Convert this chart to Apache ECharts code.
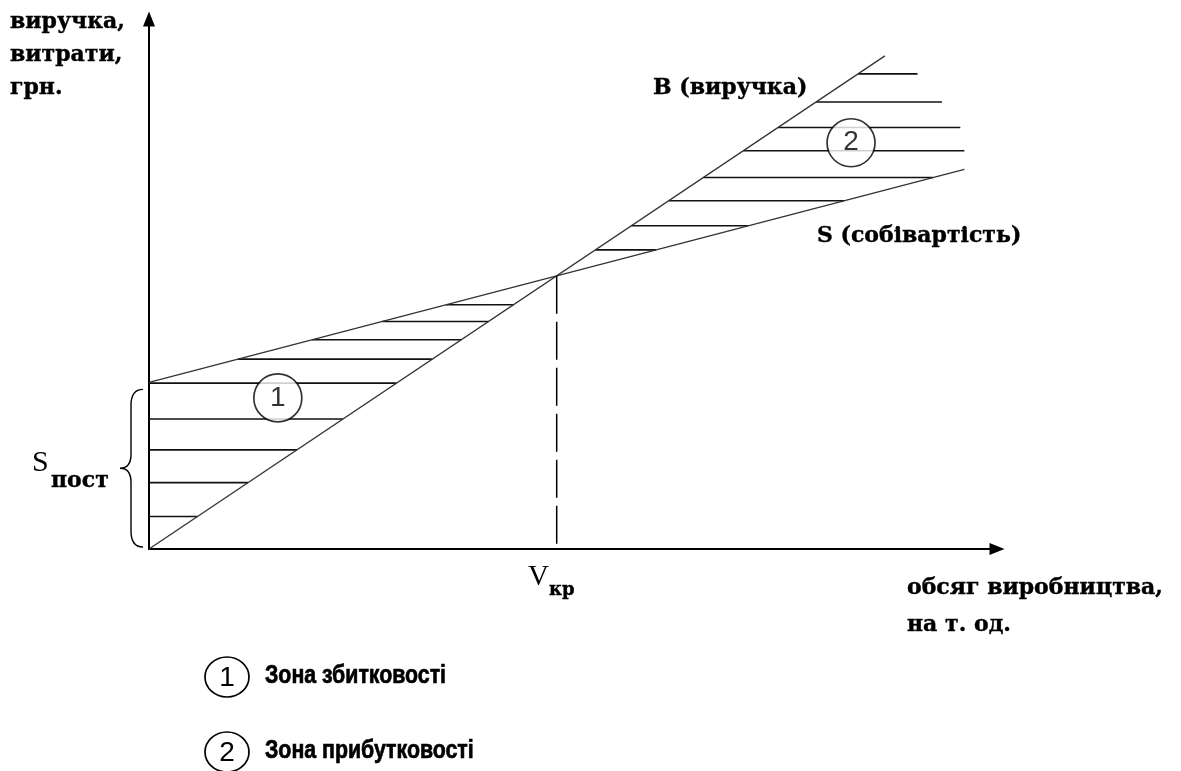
<!DOCTYPE html>
<html>
<head>
<meta charset="utf-8">
<script src="https://cdn.jsdelivr.net/npm/echarts@6/dist/echarts.min.js"></script>
<style>html,body{margin:0;background:#fff}#main{width:1181px;height:771px}</style>
</head>
<body>
<div id="main"></div>
<script>
var myChart = echarts.init(document.getElementById('main'));

// volume (x) vs money (y), arbitrary units, break-even at x = 10
var revenueLine = [[0, 0], [18.05, 18.05]];     // B (виручка)
var costLine = [[0, 6.1], [20, 13.9]];          // S (собівартість)
var breakEven = [10, 10];
var fixedCost = 6.1;

// hatch levels (y) of the two zones
var lossHatch = [8.94, 8.33, 7.66, 6.95, 6.07, 4.76, 3.63, 2.43, 1.19];
var profitHatch = [17.39, 16.36, 15.43, 14.58, 13.60, 12.75, 11.83, 10.95];
var profitHatchEnd = [18.85, 19.45, 19.9, 20.0];  // ragged right ends of the top lines

// circled zone numbers: x, y, label
var zoneMarks = [[3.16, 5.53, '1'], [17.22, 14.87, '2']];

var legendItems = ['Зона збитковості', 'Зона прибутковості'];

// x where a line reaches level y
function xAt(line, y) {
    var a = line[0], b = line[1];
    return a[0] + (y - a[1]) * (b[0] - a[0]) / (b[1] - a[1]);
}

var hatchData = [];
lossHatch.forEach(function (y) {
    hatchData.push([Math.max(0, xAt(costLine, y)), xAt(revenueLine, y), y]);
});
profitHatch.forEach(function (y, i) {
    var end = xAt(costLine, y);
    if (profitHatchEnd[i] != null) end = Math.min(end, profitHatchEnd[i]);
    hatchData.push([xAt(revenueLine, y), end, y]);
});

var serifB = 'bold 22px "DejaVu Serif"';
var legendFont = 'bold 26px "Liberation Sans"';
var axisStyle = {
    show: true,
    symbol: ['none', 'triangle'],
    symbolSize: [12, 15],
    lineStyle: {color: '#000', width: 2}
};

function serifText(txt, x, y, extra) {
    var st = {text: txt, font: serifB, fill: '#000', stroke: '#000', lineWidth: 0.4, verticalAlign: 'middle'};
    for (var k in extra) st[k] = extra[k];
    return {type: 'text', x: x, y: y, style: st};
}

option = {
    backgroundColor: '#fff',
    animation: false,
    grid: {left: 149, top: 19, right: 184, bottom: 222, outerBoundsMode: 'none'},
    xAxis: {
        type: 'value', min: 0, max: 20.8,
        axisLine: axisStyle,
        axisTick: {show: false}, axisLabel: {show: false}, splitLine: {show: false}
    },
    yAxis: {
        type: 'value', min: 0, max: 19.4,
        axisLine: axisStyle,
        axisTick: {show: false}, axisLabel: {show: false}, splitLine: {show: false}
    },
    series: [
        {
            // hatching
            type: 'custom',
            data: hatchData,
            encode: {x: [0, 1], y: 2},
            renderItem: function (params, api) {
                var p0 = api.coord([api.value(0), api.value(2)]);
                var p1 = api.coord([api.value(1), api.value(2)]);
                return {
                    type: 'line',
                    shape: {x1: p0[0], y1: p0[1], x2: p1[0], y2: p1[1]},
                    style: {stroke: '#111', lineWidth: 1.6}
                };
            },
            z: 1
        },
        {
            type: 'line', data: revenueLine, symbol: 'none',
            lineStyle: {color: '#333', width: 1.3}, z: 2
        },
        {
            type: 'line', data: costLine, symbol: 'none',
            lineStyle: {color: '#333', width: 1.3}, z: 2
        },
        {
            // Vкр drop line
            type: 'line', data: [breakEven, [breakEven[0], 0]], symbol: 'none',
            lineStyle: {color: '#000', width: 1.5, type: [38, 8]}, z: 2
        },
        {
            // brace for S пост
            type: 'custom',
            data: [[0, fixedCost]],
            clip: false,
            renderItem: function (params, api) {
                var top = api.coord([0, api.value(1)]);
                var bot = api.coord([0, 0]);
                var x0 = top[0] - 6, x1 = top[0] - 18, xt = top[0] - 29;
                var y0 = top[1] + 7, y1 = bot[1] - 2, ym = (y0 + y1) / 2;
                var d = 'M' + x0 + ' ' + y0 +
                    ' Q' + x1 + ' ' + y0 + ' ' + x1 + ' ' + (y0 + 16) +
                    ' L' + x1 + ' ' + (ym - 14) +
                    ' Q' + x1 + ' ' + ym + ' ' + xt + ' ' + ym +
                    ' Q' + x1 + ' ' + ym + ' ' + x1 + ' ' + (ym + 14) +
                    ' L' + x1 + ' ' + (y1 - 16) +
                    ' Q' + x1 + ' ' + y1 + ' ' + x0 + ' ' + y1;
                return {
                    type: 'path',
                    shape: {pathData: d},
                    style: {stroke: '#000', lineWidth: 1.4, fill: null}
                };
            }
        },
        {
            type: 'scatter',
            data: zoneMarks,
            symbol: 'circle',
            symbolSize: 48,
            itemStyle: {color: '#fff', borderColor: '#000', borderWidth: 1.7},
            label: {
                show: true, position: 'inside',
                formatter: function (p) { return p.value[2]; },
                color: '#000', fontSize: 28, fontFamily: 'Liberation Sans'
            },
            z: 5
        }
    ],
    graphic: [
        serifText('виручка,\nвитрати,\nгрн.', 10, 55, {lineHeight: 33}),
        serifText('В (виручка)', 653, 88),
        serifText('S (собівартість)', 817, 236),
        serifText('обсяг виробництва,\nна т. од.', 907, 607, {lineHeight: 37}),
        {type: 'text', x: 528, y: 577,
            style: {text: 'V', font: '29px "Liberation Serif"', verticalAlign: 'middle', fill: '#000'}},
        serifText('кр', 549, 590, {font: 'bold 18px "DejaVu Serif"'}),
        {type: 'text', x: 32, y: 463,
            style: {text: 'S', font: '30px "Liberation Serif"', verticalAlign: 'middle', fill: '#000'}},
        serifText('пост', 51, 481),
        {type: 'ellipse', shape: {cx: 227, cy: 677, rx: 22, ry: 20},
            style: {fill: 'none', stroke: '#000', lineWidth: 1.7}},
        {type: 'text', x: 227, y: 678,
            style: {text: '1', font: '28px "Liberation Sans"', align: 'center', verticalAlign: 'middle', fill: '#000'}},
        {type: 'text', x: 265, y: 676, scaleX: 0.82,
            style: {text: legendItems[0], font: legendFont, verticalAlign: 'middle', fill: '#000', stroke: '#000', lineWidth: 0.7}},
        {type: 'ellipse', shape: {cx: 227, cy: 752, rx: 22, ry: 20},
            style: {fill: 'none', stroke: '#000', lineWidth: 1.7}},
        {type: 'text', x: 227, y: 753,
            style: {text: '2', font: '28px "Liberation Sans"', align: 'center', verticalAlign: 'middle', fill: '#000'}},
        {type: 'text', x: 265, y: 751, scaleX: 0.82,
            style: {text: legendItems[1], font: legendFont, verticalAlign: 'middle', fill: '#000', stroke: '#000', lineWidth: 0.7}}
    ]
};

myChart.setOption(option);
</script>
</body>
</html>
